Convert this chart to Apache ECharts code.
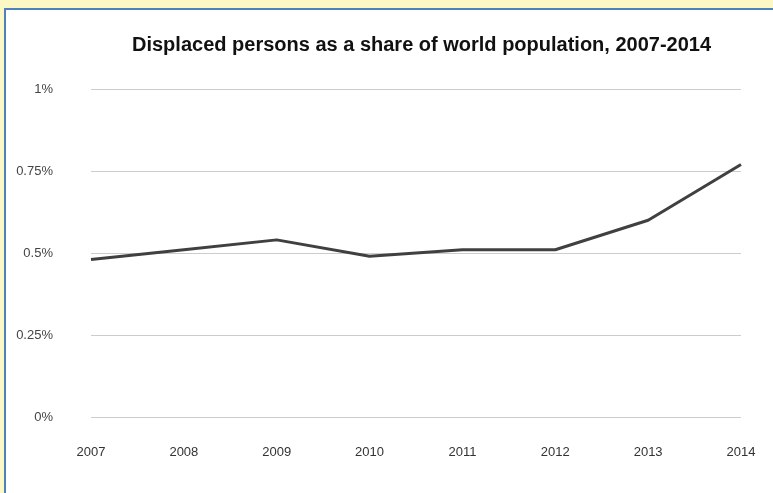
<!DOCTYPE html>
<html>
<head>
<meta charset="utf-8">
<script src="https://cdn.jsdelivr.net/npm/echarts@6/dist/echarts.min.js"></script>
<style>
  html, body { margin: 0; padding: 0; }
  body { width: 773px; height: 493px; background: #fcf8c6; position: relative; overflow: hidden; }
  #panel { position: absolute; left: 4px; top: 8px; right: 0; bottom: 0;
           background: #ffffff; border-top: 2px solid #4f81bd; border-left: 2px solid #4f81bd; }
  #chart { position: absolute; left: 0; top: 0; width: 773px; height: 493px; }
</style>
</head>
<body>
<div id="panel"></div>
<div id="chart"></div>
<script>
// Displaced persons as a percentage of world population, by year
const years = ['2007', '2008', '2009', '2010', '2011', '2012', '2013', '2014'];
const sharePct = [0.48, 0.51, 0.54, 0.49, 0.51, 0.51, 0.60, 0.77];
const yTicks = [0, 0.25, 0.5, 0.75, 1];

const chart = echarts.init(document.getElementById('chart'), null, { renderer: 'canvas' });
chart.setOption({
  backgroundColor: 'transparent',
  animation: false,
  title: {
    text: 'Displaced persons as a share of world population, 2007-2014',
    left: 127,
    top: 30,
    textStyle: { fontFamily: 'Liberation Sans, Arial, sans-serif', fontSize: 20, fontWeight: 'bold', color: '#111' }
  },
  grid: { left: 91, right: 32, top: 89, bottom: 76 },
  xAxis: {
    type: 'category',
    data: years,
    boundaryGap: false,
    axisLine: { show: false },
    axisTick: { show: false },
    axisLabel: { margin: 29, fontFamily: 'Liberation Sans, Arial, sans-serif', fontSize: 13, color: '#333' },
    splitLine: { show: false }
  },
  yAxis: {
    type: 'value',
    min: 0,
    max: 1,
    interval: 0.25,
    axisLine: { show: false },
    axisTick: { show: false },
    axisLabel: {
      margin: 38,
      fontFamily: 'Liberation Sans, Arial, sans-serif', fontSize: 13, color: '#444',
      formatter: v => yTicks.includes(v) ? v + '%' : ''
    },
    splitLine: { lineStyle: { color: '#cccccc', width: 1 } }
  },
  series: [{
    type: 'line',
    data: sharePct,
    showSymbol: false,
    lineStyle: { color: '#404040', width: 3 },
    itemStyle: { color: '#404040' }
  }]
});
</script>
</body>
</html>
